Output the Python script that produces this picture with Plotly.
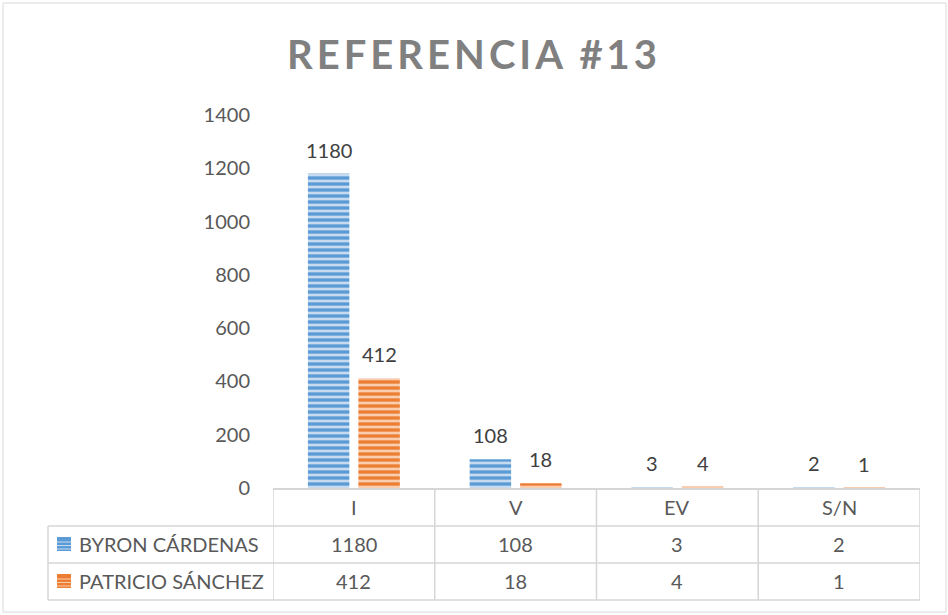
import plotly.graph_objects as go

categories = ["I", "V", "EV", "S/N"]
series_names = ["BYRON CÁRDENAS", "PATRICIO SÁNCHEZ"]
byron = [1180, 108, 3, 2]
patricio = [412, 18, 4, 1]
y_ticks = [0, 200, 400, 600, 800, 1000, 1200, 1400]
title_text = "REFERENCIA #13"

W, H = 948, 615
L, R, T, B = 273, 920, 115, 488
PW, PH = R - L, B - T

def px(xp):
    return (xp - L) / PW

def py(yp):
    return (B - yp) / PH

FONT = "Lato"
TXT = "#595959"
GRID = "#d6d6d6"
BARGAP, GROUPGAP = 0.376, 0.178

blue_fg, blue_bg = "#5b9bd5", "#c6dbf0"
orange_fg, orange_bg = "#ed7d31", "#f8cdb0"
series = [(series_names[0], byron, blue_fg, blue_bg),
          (series_names[1], patricio, orange_fg, orange_bg)]

fig = go.Figure()
for name, vals, fg, bg in series:
    fig.add_trace(go.Bar(
        x=categories, y=vals, name=name,
        marker=dict(color=fg, line=dict(width=0),
                    pattern=dict(shape="-", fgcolor=fg, bgcolor=bg, size=6,
                                 solidity=0.55, fillmode="replace", fgopacity=1)),
        showlegend=False, hoverinfo="x+y+name",
    ))

annotations = []
# data labels above bars (offset per series within the group)
slot_px = (PW / len(categories)) * (1 - BARGAP) / len(series)
for j, (name, vals, fg, bg) in enumerate(series):
    xs = (j - (len(series) - 1) / 2) * slot_px
    for c, v in zip(categories, vals):
        annotations.append(dict(xref="x", yref="y", x=c, y=v, text=str(v),
                                showarrow=False, xanchor="center", yanchor="bottom",
                                xshift=xs, yshift=10,
                                font=dict(family=FONT, size=20, color="#404040")))

shapes = []
# outer chart border
shapes.append(dict(type="rect", xref="paper", yref="paper",
                   x0=px(3), x1=px(946), y0=py(3), y1=py(612),
                   line=dict(color="#d9d9d9", width=1), layer="below"))
# table vertical lines at category boundaries
for i in range(len(categories) + 1):
    xb = i - 0.5
    shapes.append(dict(type="line", xref="x", yref="paper", x0=xb, x1=xb,
                       y0=py(488), y1=py(600), line=dict(color=GRID, width=1.5)))
# left border of row-label column
shapes.append(dict(type="line", xref="paper", yref="paper", x0=px(48), x1=px(48),
                   y0=py(526), y1=py(600), line=dict(color=GRID, width=1.5)))
# horizontal table lines
for yl in [526, 563, 600]:
    shapes.append(dict(type="line", xref="paper", yref="paper", x0=px(48), x1=1,
                       y0=py(yl), y1=py(yl), line=dict(color=GRID, width=1.5)))

row_y = [544, 581]
# legend keys + row labels
for (name, vals, fg, bg), yc in zip(series, row_y):
    shapes.append(dict(type="rect", xref="paper", yref="paper",
                       x0=px(57), x1=px(71), y0=py(yc - 7), y1=py(yc + 7),
                       fillcolor=fg, line=dict(width=0)))
    for k in [-3.5, 0, 3.5]:
        shapes.append(dict(type="line", xref="paper", yref="paper",
                           x0=px(57), x1=px(71), y0=py(yc + k + 1.5), y1=py(yc + k + 1.5),
                           line=dict(color=bg, width=1)))
    annotations.append(dict(xref="paper", yref="paper", x=px(77), y=py(yc),
                            text=name, showarrow=False, xanchor="left", yanchor="middle",
                            font=dict(family=FONT, size=20, color=TXT)))
# header row
for c in categories:
    annotations.append(dict(xref="x", yref="paper", x=c, y=py(507), text=c,
                            showarrow=False, yanchor="middle",
                            font=dict(family=FONT, size=20, color=TXT)))
# values rows
for (name, vals, fg, bg), yc in zip(series, row_y):
    for c, v in zip(categories, vals):
        annotations.append(dict(xref="x", yref="paper", x=c, y=py(yc), text=str(v),
                                showarrow=False, yanchor="middle",
                                font=dict(family=FONT, size=20, color=TXT)))

fig.update_layout(
    width=W, height=H,
    margin=dict(l=L, r=W - R, t=T, b=H - B, pad=0),
    paper_bgcolor="white", plot_bgcolor="white",
    title=dict(text='<span style="letter-spacing:4px">' + title_text + '</span>',
               x=0.5, xref="container", xanchor="center",
               y=1 - 55 / H, yanchor="middle",
               font=dict(family=FONT, size=40, color="#808080", weight="bold")),
    bargap=BARGAP, bargroupgap=GROUPGAP, barmode="group",
    xaxis=dict(range=[-0.5, 3.5], showticklabels=False, ticks="",
               showline=True, linecolor=GRID, linewidth=1.5, showgrid=False,
               zeroline=False, fixedrange=True),
    yaxis=dict(range=[0, 1400], tickvals=y_ticks, showgrid=False, zeroline=False,
               showline=False, ticks="", ticklabelstandoff=22,
               tickfont=dict(family=FONT, size=20, color=TXT)),
    shapes=shapes, annotations=annotations,
)

fig.write_html("out.html", config={"displayModeBar": False},
               post_script="document.body.style.margin='0';")
